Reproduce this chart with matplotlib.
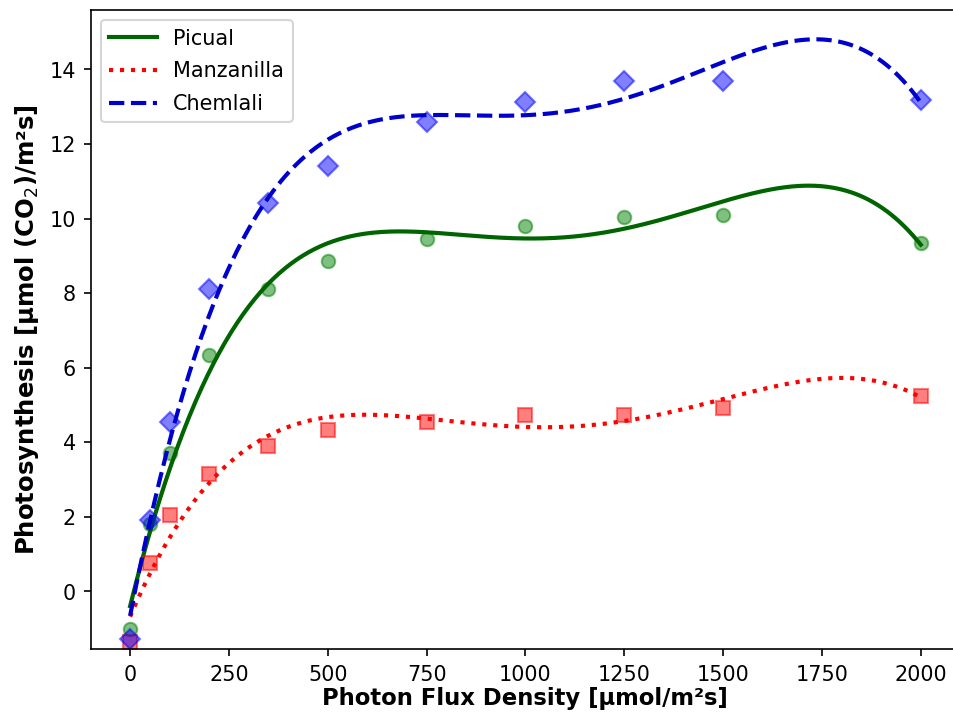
import numpy as np
import matplotlib
matplotlib.use("Agg")
import matplotlib.pyplot as plt

# photon flux density levels
ppfd = [0, 50, 100, 200, 350, 500, 750, 1000, 1250, 1500, 2000]

# measured net photosynthesis per cultivar
picual = [-1.0, 1.8, 3.7, 6.35, 8.1, 8.85, 9.45, 9.8, 10.05, 10.1, 9.35]
manzanilla = [-1.35, 0.75, 2.05, 3.15, 3.9, 4.33, 4.55, 4.72, 4.72, 4.92, 5.24]
chemlali = [-1.28, 1.92, 4.54, 8.12, 10.42, 11.4, 12.58, 13.14, 13.7, 13.7, 13.18]

deg = 4  # polynomial fit order

fig = plt.figure(figsize=(6.4, 4.8), dpi=149)
ax = fig.add_axes([0.095, 0.092, 0.912, 0.894])

x = np.array(ppfd)
xs = np.linspace(0, 2000, 400)

series = [
    ("Picual", picual, "darkgreen", "-", "green", "o", 6.5),
    ("Manzanilla", manzanilla, "red", ":", "red", "s", 6.5),
    ("Chemlali", chemlali, "mediumblue", "--", "blue", "D", 6.5),
]

for name, y, lc, ls, mc, mk, ms in series:
    ax.plot(x, y, mk, color=mc, alpha=0.5, markersize=ms, linestyle="none")
    coef = np.polyfit(x, y, deg)
    ax.plot(xs, np.polyval(coef, xs), ls, color=lc, lw=2, label=name)

ax.set_xlim(-100, 2100)
ax.set_ylim(-1.55, 15.6)
ax.set_xticks(range(0, 2001, 250))
ax.set_yticks(range(0, 15, 2))
ax.tick_params(axis="x", pad=4)
ax.set_xlabel("Photon Flux Density [µmol/m²s]", fontweight="bold", fontsize=11, labelpad=1)
ax.set_ylabel("Photosynthesis [µmol (CO$_2$)/m²s]", fontweight="bold", fontsize=11.8)
ax.legend(loc="upper left", labelspacing=0.62, handlelength=2.3)

fig.savefig("out.png", dpi=149)
